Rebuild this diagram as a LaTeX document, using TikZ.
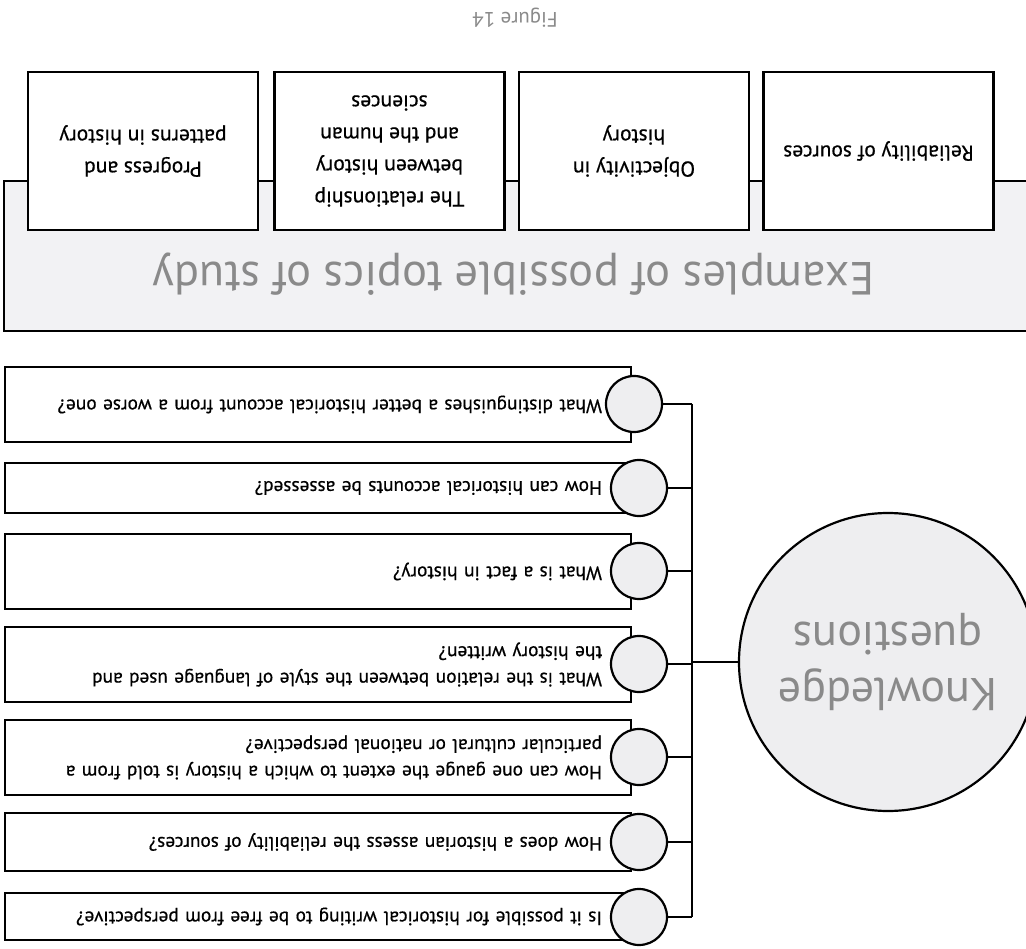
\documentclass[tikz,border=0pt]{standalone}
\usepackage{fontspec}
\setmainfont{PT Sans}
\newfontfamily\boxfont[FakeBold=0.6]{PT Sans}
\definecolor{cfill}{HTML}{EEEEF0}
\definecolor{bandfill}{HTML}{F2F2F4}
\definecolor{tgray}{HTML}{8A8A8A}
\begin{document}
\begin{tikzpicture}[x=1pt,y=-1pt,
  lw/.style={line width=2.2pt},
  tbox/.style={draw, lw, fill=white, rectangle, minimum width=230pt, minimum height=158pt, rotate=180, align=center, font=\boxfont\fontsize{21.5}{32}\selectfont, inner sep=0pt},
  qbox/.style={draw, lw, fill=white, rectangle, minimum width=626pt, rotate=180, align=left, text width=568pt, inner xsep=29pt, inner ysep=0pt, font=\boxfont\fontsize{19.3}{26.5}\selectfont},
  qcirc/.style={draw, lw, fill=cfill, circle, minimum size=56pt, inner sep=0pt},
  kcirc/.style={draw, lw, fill=cfill, circle, minimum size=298pt, inner sep=0pt, rotate=180, align=center, text=tgray, font=\fontsize{46}{56}\selectfont},
  link/.style={line width=2pt}]
\useasboundingbox (0,0) rectangle (1026,949);
\clip (0,0) rectangle (1026,949);
\fill[white] (0,0) rectangle (1026,949);
% caption
\node[rotate=180, text=tgray, font=\fontsize{21}{24}\selectfont] (fig) at (515,18) {Figure 14};
% band
\node[draw, lw, fill=bandfill, minimum width=1040pt, minimum height=150pt, anchor=north west, inner sep=0pt] (band) at (3,180) {};
\node[rotate=180, text=tgray, font=\fontsize{46.5}{54}\selectfont, anchor=base] (bandtitle) at (514,263) {Examples of possible topics of study};
% top boxes
\node[tbox] (t1) at (143,151) {Progress and\\patterns in history};
\node[tbox] (t2) at (389.5,151) {The relationship\\between history\\and the human\\sciences};
\node[tbox] (t3) at (634,151) {Objectivity in\\history};
\node[tbox] (t4) at (878.5,151) {Reliability of sources};
% question boxes
\node[qbox, minimum height=75pt] (q1) at (318,404.5) {What distinguishes a better historical account from a worse one?};
\node[qbox, minimum height=50pt] (q2) at (318,488) {How can historical accounts be assessed?};
\node[qbox, minimum height=75pt] (q3) at (318,571.5) {What is a fact in history?};
\node[qbox, minimum height=75pt] (q4) at (318,664.5) {What is the relation between the style of language used and\\the history written?};
\node[qbox, minimum height=75pt] (q5) at (318,757.5) {How can one gauge the extent to which a history is told from a\\particular cultural or national perspective?};
\node[qbox, minimum height=58pt] (q6) at (318,842) {How does a historian assess the reliability of sources?};
\node[qbox, minimum height=47pt] (q7) at (318,916.5) {Is it possible for historical writing to be free from perspective?};
% small circles
\node[qcirc] (c1) at (634,404) {};
\node[qcirc] (c2) at (639,488) {};
\node[qcirc] (c3) at (639,571) {};
\node[qcirc] (c4) at (639,664) {};
\node[qcirc] (c5) at (639,757) {};
\node[qcirc] (c6) at (639,842) {};
\node[qcirc] (c7) at (639,917) {};
% big circle
\node[kcirc] (kq) at (888,662) {Knowledge\\questions};
% bus
\coordinate (bt) at (692,404);
\coordinate (bb) at (692,917);
\draw[link] (bt) -- (bb);
\foreach \c in {c1,c2,c3,c4,c5,c6,c7} {
  \draw[link] (\c) -- (\c -| bt);
}
\draw[link] (kq) -- (kq -| bt);
\end{tikzpicture}
\end{document}
